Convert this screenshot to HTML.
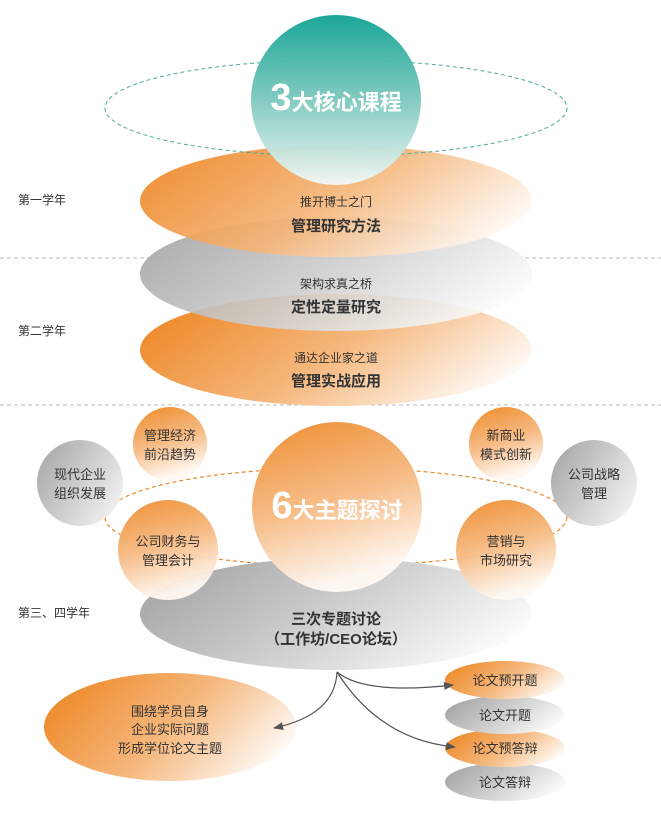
<!DOCTYPE html>
<html><head><meta charset="utf-8"><style>
html,body{margin:0;padding:0;background:#fff;}
svg{display:block;font-family:"Liberation Sans","Noto Sans CJK SC",sans-serif;}
</style></head><body>
<svg width="661" height="819" viewBox="0 0 661 819" xmlns="http://www.w3.org/2000/svg">
<defs>
<linearGradient id="org" x1="0" y1="0.3" x2="1" y2="0.7"><stop offset="0" stop-color="#ee8a2a"/><stop offset="0.5" stop-color="#f5b77c"/><stop offset="1" stop-color="#ffffff"/></linearGradient>
<linearGradient id="gry" x1="0" y1="0.3" x2="1" y2="0.7"><stop offset="0" stop-color="#a6a6a6"/><stop offset="0.5" stop-color="#d0d0d0"/><stop offset="1" stop-color="#ffffff"/></linearGradient>
<linearGradient id="teal" x1="0" y1="0" x2="0" y2="1"><stop offset="0" stop-color="#0fa293"/><stop offset="0.5" stop-color="#7cc8bd"/><stop offset="1" stop-color="#f2faf8"/></linearGradient>
<linearGradient id="oc" x1="0" y1="0" x2="0.3" y2="1"><stop offset="0" stop-color="#ee8a2a"/><stop offset="0.55" stop-color="#f6bb85"/><stop offset="1" stop-color="#fff8f2"/></linearGradient>
<linearGradient id="gc" x1="0" y1="0.2" x2="1" y2="0.8"><stop offset="0" stop-color="#a8a8a8"/><stop offset="1" stop-color="#f4f4f4"/></linearGradient>
<marker id="ar" markerWidth="10" markerHeight="8" refX="9" refY="4" orient="auto" markerUnits="userSpaceOnUse"><path d="M0,0 L10,4 L0,8 Z" fill="#555"/></marker>
</defs>

<line x1="0" y1="258" x2="661" y2="258" stroke="#bbb" stroke-dasharray="4,3"/>
<line x1="0" y1="405" x2="661" y2="405" stroke="#bbb" stroke-dasharray="4,3"/>

<g font-size="12" fill="#333">
<text x="18" y="204">第一学年</text>
<text x="18" y="335">第二学年</text>
<text x="18" y="617">第三、四学年</text>
</g>

<!-- top stack -->
<ellipse cx="336" cy="350" rx="196" ry="56" fill="url(#org)"/>
<ellipse cx="336" cy="274" rx="196" ry="57" fill="url(#gry)" opacity="0.9"/>
<ellipse cx="336" cy="201" rx="196" ry="56" fill="url(#org)" opacity="0.92"/>
<ellipse cx="336" cy="108" rx="231" ry="48" fill="none" stroke="#4aaa9c" stroke-width="1" stroke-dasharray="4,3"/>
<circle cx="336" cy="100" r="85" fill="url(#teal)" opacity="0.95"/>
<text x="336" y="110" text-anchor="middle" fill="#fff" font-weight="bold"><tspan font-size="38">3</tspan><tspan font-size="22">大核心课程</tspan></text>

<g text-anchor="middle" fill="#333">
<text x="336" y="206" font-size="12">推开博士之门</text>
<text x="336" y="231" font-size="15" font-weight="bold">管理研究方法</text>
<text x="336" y="288" font-size="12">架构求真之桥</text>
<text x="336" y="312" font-size="15" font-weight="bold">定性定量研究</text>
<text x="336" y="362" font-size="12">通达企业家之道</text>
<text x="336" y="386" font-size="15" font-weight="bold">管理实战应用</text>
</g>

<!-- bottom -->
<ellipse cx="336" cy="517" rx="231" ry="49" fill="none" stroke="#ee8a2a" stroke-width="1.2" stroke-dasharray="4,3"/>
<ellipse cx="336" cy="614" rx="196" ry="56" fill="url(#gry)"/>
<circle cx="337" cy="507" r="85" fill="url(#oc)" opacity="0.97"/>
<text x="337" y="518" text-anchor="middle" fill="#fff" font-weight="bold"><tspan font-size="38">6</tspan><tspan font-size="22">大主题探讨</tspan></text>

<circle cx="170" cy="444" r="37" fill="url(#oc)"/>
<circle cx="80" cy="483" r="43" fill="url(#gc)"/>
<circle cx="168" cy="550" r="50" fill="url(#oc)" opacity="0.95"/>
<circle cx="506" cy="444" r="37" fill="url(#oc)"/>
<circle cx="594" cy="483" r="43" fill="url(#gc)"/>
<circle cx="506" cy="550" r="50" fill="url(#oc)" opacity="0.95"/>

<g text-anchor="middle" fill="#333" font-size="13">
<text x="170" y="440">管理经济</text><text x="170" y="459">前沿趋势</text>
<text x="80" y="479">现代企业</text><text x="80" y="498">组织发展</text>
<text x="168" y="546">公司财务与</text><text x="168" y="565">管理会计</text>
<text x="506" y="440">新商业</text><text x="506" y="459">模式创新</text>
<text x="594" y="479">公司战略</text><text x="594" y="498">管理</text>
<text x="506" y="546">营销与</text><text x="506" y="565">市场研究</text>
</g>
<text x="336" y="624" text-anchor="middle" font-size="15" font-weight="bold" fill="#333">三次专题讨论</text>
<text x="336" y="644" text-anchor="middle" font-size="15" font-weight="bold" fill="#333">（工作坊/CEO论坛）</text>

<ellipse cx="170" cy="727" rx="126" ry="54" fill="url(#org)"/>
<g text-anchor="middle" fill="#333" font-size="13">
<text x="170" y="716">围绕学员自身</text>
<text x="170" y="734">企业实际问题</text>
<text x="170" y="753">形成学位论文主题</text>
</g>

<ellipse cx="505" cy="782" rx="60" ry="19" fill="url(#gry)"/>
<ellipse cx="505" cy="748" rx="60" ry="19" fill="url(#org)"/>
<ellipse cx="505" cy="715" rx="60" ry="19" fill="url(#gry)"/>
<ellipse cx="505" cy="680" rx="60" ry="19" fill="url(#org)"/>
<g text-anchor="middle" fill="#333" font-size="13">
<text x="505" y="685">论文预开题</text>
<text x="505" y="720">论文开题</text>
<text x="505" y="753">论文预答辩</text>
<text x="505" y="787">论文答辩</text>
</g>

<g fill="none" stroke="#555" stroke-width="1.2">
<path d="M337,672 Q365,695 453,685" marker-end="url(#ar)"/>
<path d="M337,672 Q380,740 455,747" marker-end="url(#ar)"/>
<path d="M337,672 Q335,715 274,728" marker-end="url(#ar)"/>
</g>
</svg>
</body></html>
